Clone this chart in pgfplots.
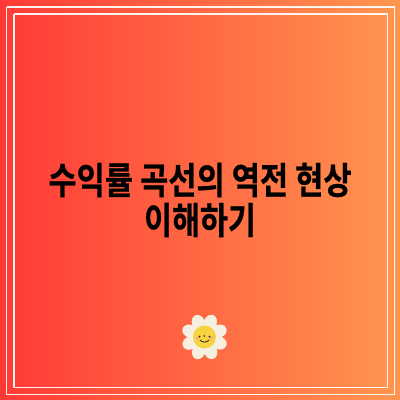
\documentclass[border=0pt]{standalone}
\usepackage{pgfplots}
\pgfplotsset{compat=1.18}
\usepackage{fontspec}
\newfontfamily\krfont[FakeBold=0.6]{Noto Sans CJK KR Bold}
\definecolor{bgleft}{HTML}{FF3A36}
\definecolor{bgright}{HTML}{FF9650}
\definecolor{petal}{HTML}{F6F0E0}
\definecolor{face}{HTML}{F6D340}
\definecolor{cheek}{HTML}{F4A0A0}
\definecolor{ink}{HTML}{2A2015}
\begin{document}
\begin{tikzpicture}
\begin{axis}[
    width=400pt, height=400pt, scale only axis,
    xmin=0, xmax=400, ymin=0, ymax=400,
    y dir=reverse,
    hide axis,
]
% background
\addplot[draw=none, left color=bgleft, right color=bgright] coordinates {
    (0,0) (400,0) (400,400) (0,400)
} \closedcycle;

% double frame
\addplot[white, line width=1.9pt, opacity=.92] coordinates {
    (6.5,7) (394.5,7) (394.5,394.5) (6.5,394.5) (6.5,7)
};
\addplot[white, line width=1.9pt, opacity=.92] coordinates {
    (14,14) (387.5,14) (387.5,387.5) (14,387.5) (14,14)
};

% title
\node[font=\krfont\fontsize{33}{33}\selectfont, text=black, xscale=.93, yscale=1.12] at (axis cs:200,180) {수익률 곡선의 역전 현상};
\node[font=\krfont\fontsize{33}{33}\selectfont, text=black, xscale=.92, yscale=1.12] at (axis cs:200,220) {이해하기};

% flower
\pgfplotsinvokeforeach{22,68,113,158,203,248,293,338}{
    \fill[petal, shift={(axis cs:204.5,337)}, rotate=#1] (15.5pt,0pt) ellipse [x radius=8pt, y radius=6.5pt];
}
\fill[face] (axis cs:204.5,337) circle [radius=11.5pt];
\fill[cheek] (axis cs:197.3,338.3) circle [radius=1.7pt];
\fill[cheek] (axis cs:211.3,337.8) circle [radius=1.7pt];
\fill[ink] (axis cs:199.5,336.5) circle [radius=1pt];
\fill[ink] (axis cs:209.5,336.5) circle [radius=1pt];
\fill[ink] (axis cs:204.2,336) circle [radius=.9pt];
\draw[ink, line width=.8pt] (axis cs:200,340) .. controls (axis cs:202,342.8) and (axis cs:207,342.8) .. (axis cs:209,340);
\end{axis}
\end{tikzpicture}
\end{document}
